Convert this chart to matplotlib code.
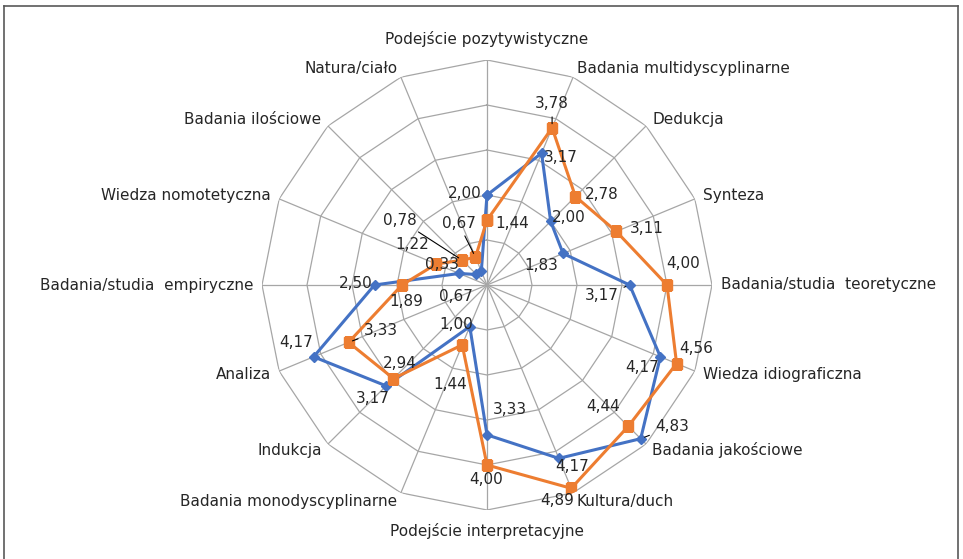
import numpy as np
import matplotlib
matplotlib.use("Agg")
import matplotlib.pyplot as plt
from matplotlib.lines import Line2D

plt.rcParams['font.family'] = ['DejaVu Sans']

# kategorie zgodnie z ruchem wskazowek zegara, od gory
kategorie = [
    "Podejście pozytywistyczne", "Badania multidyscyplinarne", "Dedukcja",
    "Synteza", "Badania/studia  teoretyczne", "Wiedza idiograficzna",
    "Badania jakościowe", "Kultura/duch", "Podejście interpretacyjne",
    "Badania monodyscyplinarne", "Indukcja", "Analiza",
    "Badania/studia  empiryczne", "Wiedza nomotetyczna", "Badania ilościowe",
    "Natura/ciało",
]
seria_niebieska = [2.00, 3.17, 2.00, 1.83, 3.17, 4.17, 4.83, 4.17,
                   3.33, 1.00, 3.17, 4.17, 2.50, 0.67, 0.33, 0.33]
seria_pomaranczowa = [1.44, 3.78, 2.78, 3.11, 4.00, 4.56, 4.44, 4.89,
                      4.00, 1.44, 2.94, 3.33, 1.89, 1.22, 0.78, 0.67]

# przesuniecia etykiet danych w pikselach (dx w prawo, dy w dol), None = brak etykiety
przes_nieb = [(-22, -2), (19, 4), (18, -4), (-22, 12), (-28, 11), (-18, 11),
              (31, -12), (13, 8), (23, -25), (-14, -2), (-13, 13), (-18, -14),
              (-19, -2), (-3, 23), (-34, -10), None]
przes_pom = [(25, 3), (0, -24), (26, -2), (30, -3), (16, -22), (20, -15),
             (-25, -20), (-14, 12), (-1, 15), (-12, 40), (6, -15), (32, -12),
             (4, 16), (-24, -19), (-62, -40), (-17, -34)]
leader_nieb = [4, 6]
leader_pom = [1, 11, 14, 15]

NIEB = "#4472C4"
POM = "#ED7D31"
SIATKA = "#A6A6A6"
TEKST = "#262626"
ROZMIAR = 11

n = len(kategorie)
theta = np.arange(n) * 2 * np.pi / n

fig = plt.figure(figsize=(9.63, 5.59), dpi=100)
W, H = 963, 559
cx, cy, R = 487, 285, 225
ax = fig.add_axes([(cx - R) / W, (H - cy - R) / H, 2 * R / W, 2 * R / H],
                  projection="polar")
ax.set_theta_zero_location("N")
ax.set_theta_direction(-1)
ax.set_ylim(0, 5)
ax.grid(False)
ax.spines["polar"].set_visible(False)
ax.set_xticks([])
ax.set_yticks([])
ax.patch.set_alpha(0)

# siatka wielokatna
th_closed = np.append(theta, theta[0])
for r in range(1, 6):
    ax.plot(th_closed, [r] * (n + 1), color=SIATKA, lw=0.9, zorder=1)
for t in theta:
    ax.plot([t, t], [0, 5], color=SIATKA, lw=0.9, zorder=1)

ax.plot(th_closed, seria_niebieska + seria_niebieska[:1], color=NIEB, lw=2.2,
        marker="D", ms=5, zorder=3)
ax.plot(th_closed, seria_pomaranczowa + seria_pomaranczowa[:1], color=POM, lw=2.2,
        marker="s", ms=7, zorder=3)

# etykiety kategorii
for t, k in zip(theta, kategorie):
    s, c = np.sin(t), np.cos(t)
    if abs(s) < 0.01:
        ha = "center"
        va = "bottom" if c > 0 else "top"
        r = 5.28
    else:
        ha = "left" if s > 0 else "right"
        va = "center"
        r = 5.2
    ax.text(t, r, k, ha=ha, va=va, fontsize=ROZMIAR, color=TEKST)


def etykiety(wartosci, przes, leadery):
    for i, (t, v) in enumerate(zip(theta, wartosci)):
        if przes[i] is None:
            continue
        dx, dy = przes[i]
        txt = f"{v:.2f}".replace(".", ",")
        props = None
        if i in leadery:
            props = dict(arrowstyle="-", color="black", lw=0.8,
                         shrinkA=2, shrinkB=3)
        ax.annotate(txt, xy=(t, v), xytext=(dx * 0.72, -dy * 0.72),
                    textcoords="offset points", ha="center", va="center",
                    fontsize=ROZMIAR, color=TEKST, arrowprops=props, zorder=4)


etykiety(seria_niebieska, przes_nieb, leader_nieb)
etykiety(seria_pomaranczowa, przes_pom, leader_pom)

# ramka wykresu
ramka = dict(color="#595959", lw=1.2, transform=fig.transFigure)
fig.add_artist(Line2D([4 / W, 4 / W], [0, 1 - 6 / H], **ramka))
fig.add_artist(Line2D([4 / W, 958 / W], [1 - 6 / H, 1 - 6 / H], **ramka))
fig.add_artist(Line2D([958 / W, 958 / W], [0, 1 - 6 / H], **ramka))

fig.savefig("out.png", dpi=100)
